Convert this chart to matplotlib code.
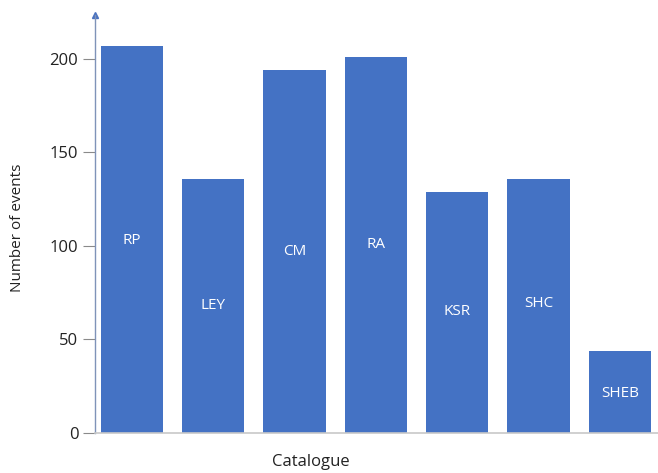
import matplotlib.pyplot as plt

catalogues = ['RP', 'LEY', 'CM', 'RA', 'KSR', 'SHC', 'SHEB']
events = [207, 136, 194, 201, 129, 136, 44]
label_y = [103, 68, 97, 101, 65, 69, 21]
y_ticks = [0, 50, 100, 150, 200]

plt.rcParams['font.family'] = ['Open Sans', 'DejaVu Sans']

fig = plt.figure(figsize=(6.58, 4.73), dpi=100)
ax = fig.add_axes([95/658, 1 - 433/473, 1 - 95/658, (433 - 15)/473])

x = list(range(len(catalogues)))
ax.bar(x, events, width=0.765, color='#4472C4', zorder=2)
for xi, name, ly in zip(x, catalogues, label_y):
    ax.text(xi, ly, name, color='white', ha='center', va='center', fontsize=11)

ax.set_xlim(-0.455, 6.47)
ax.set_ylim(0, 223.5)
ax.set_yticks(y_ticks)
ax.set_xticks([])
ax.tick_params(axis='y', length=9, width=0.8, color='#8a8a8a', labelsize=12,
               labelcolor='#222222', pad=3)

for s in ['top', 'right']:
    ax.spines[s].set_visible(False)
ax.spines['bottom'].set_color('#c8c8c8')
ax.spines['bottom'].set_linewidth(1.2)
ax.spines['left'].set_color('#7f93b8')
ax.spines['left'].set_linewidth(1.0)
ax.plot([0], [1], marker='^', color='#4a72c0', markersize=4,
        transform=ax.transAxes, clip_on=False)

fig.text(18/658, 1 - 228/473, 'Number of events', rotation=90, ha='center',
         va='center', fontsize=11, color='#222222')
fig.text(311/658, 1 - 462/473, 'Catalogue', ha='center', va='center',
         fontsize=12, color='#222222')

fig.savefig('out.png', dpi=100)
